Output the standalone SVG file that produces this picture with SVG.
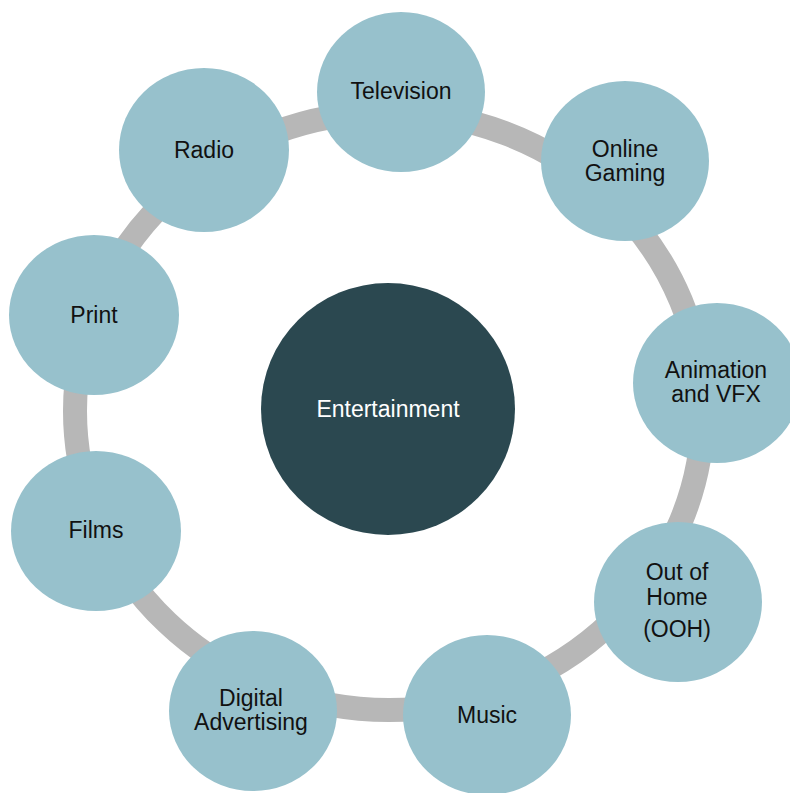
<svg xmlns="http://www.w3.org/2000/svg" width="790" height="793" viewBox="0 0 790 793">
<style>
.node{fill:#97c1cc}
.hub{fill:#2b4850}
.ring{fill:none;stroke:#b7b7b7;stroke-width:24}
text{font-family:"Liberation Sans",Arial,sans-serif;font-size:23px;fill:#111111;text-anchor:middle}
.hubt{fill:#ffffff}
</style>
<rect width="790" height="793" fill="#ffffff"/>
<g id="connectors">
<ellipse class="ring" cx="389" cy="411" rx="314" ry="299"/>
</g>
<g id="entertainment">
<ellipse class="hub" cx="388" cy="409" rx="127" ry="126"/>
<text class="hubt" x="388" y="417">Entertainment</text>
</g>
<g id="television">
<ellipse class="node" cx="401" cy="92" rx="84" ry="80"/>
<text x="401" y="99">Television</text>
</g>
<g id="online-gaming">
<ellipse class="node" cx="625" cy="161" rx="84" ry="80"/>
<text x="625" y="157">Online</text>
<text x="625" y="181">Gaming</text>
</g>
<g id="animation-vfx">
<ellipse class="node" cx="717" cy="383" rx="84" ry="80"/>
<text x="716" y="378">Animation</text>
<text x="716" y="402">and VFX</text>
</g>
<g id="out-of-home">
<ellipse class="node" cx="678" cy="602" rx="84" ry="80"/>
<text x="677" y="580">Out of</text>
<text x="677" y="605">Home</text>
<text x="677" y="637">(OOH)</text>
</g>
<g id="music">
<ellipse class="node" cx="487" cy="715" rx="84" ry="80"/>
<text x="487" y="723">Music</text>
</g>
<g id="digital-advertising">
<ellipse class="node" cx="253" cy="711" rx="84" ry="80"/>
<text x="251" y="706">Digital</text>
<text x="251" y="730">Advertising</text>
</g>
<g id="films">
<ellipse class="node" cx="96" cy="531" rx="85" ry="80"/>
<text x="96" y="538">Films</text>
</g>
<g id="print">
<ellipse class="node" cx="94" cy="315" rx="85" ry="80"/>
<text x="94" y="323">Print</text>
</g>
<g id="radio">
<ellipse class="node" cx="204" cy="150" rx="85" ry="82"/>
<text x="204" y="158">Radio</text>
</g>
</svg>
